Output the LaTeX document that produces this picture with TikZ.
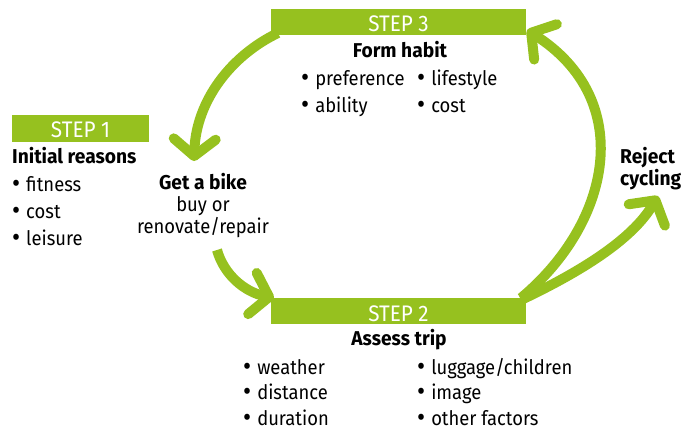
\documentclass[tikz,border=0pt]{standalone}
\usepackage{fontspec}
\setmainfont{Fira Sans}[FakeStretch=0.92,BoldFeatures={FakeStretch=0.96}]
\usetikzlibrary{arrows.meta}
\definecolor{stepgreen}{RGB}{150,193,31}
\newcommand\bul{\smash{\fontsize{27}{20}\selectfont\raisebox{-1.2pt}{•}}\hspace{6pt}}
\begin{document}
\begin{tikzpicture}[x=1pt,y=-1pt,
  stepbox/.style={inner sep=0pt,anchor=base,text=white,font=\fontsize{22.5}{22}\selectfont},
  txt/.style={inner sep=0pt,anchor=base west,font=\fontsize{20}{22}\selectfont},
  ttl/.style={inner sep=0pt,anchor=base,font=\fontsize{20}{22}\selectfont\bfseries},
  arr/.style={draw=stepgreen,line width=10pt,-{Straight Barb[length=17pt,width=42pt,round]}}]
\useasboundingbox (0,0) rectangle (683,432);
% arrow endpoints
\coordinate (a1s) at (278,33);
\coordinate (a1e) at (194,161);
\coordinate (a2s) at (217,250);
\coordinate (a2e) at (274,298);
\coordinate (a3s) at (521,298);
\coordinate (a3e) at (527,30);
\coordinate (a4s) at (521,300);
\coordinate (a4e) at (658,196);
% arrows
\draw[arr] (a1s) .. controls (232,55) and (196,100) .. (a1e);
\draw[arr] (a2s) .. controls (224,275) and (245,292) .. (a2e);
\draw[arr] (a3s) .. controls (612,222) and (636,100) .. (a3e);
\draw[arr] (a4s) .. controls (580,272) and (632,240) .. (a4e);
% step boxes
\fill[stepgreen] (12,115) rectangle (149,142);
\node[stepbox] (s1) at (80.5,137.5) {STEP 1};
\fill[stepgreen] (271,9) rectangle (526,35);
\node[stepbox] (s3) at (398.5,31.7) {STEP 3};
\fill[stepgreen] (271,298) rectangle (526,324);
\node[stepbox] (s2) at (398.5,321) {STEP 2};
% step 1 text
\node[txt,font=\fontsize{20}{22}\selectfont\bfseries] (t1) at (12,163.5) {Initial reasons};
\node[txt] (t1a) at (12,191) {\bul fitness};
\node[txt] (t1b) at (12,218) {\bul cost};
\node[txt] (t1c) at (12,245) {\bul leisure};
% get a bike
\node[ttl] (gb) at (203,189) {Get a bike};
\node[ttl,font=\fontsize{20}{22}\selectfont] (gb1) at (203,211) {buy or};
\node[ttl,font=\fontsize{20}{22}\selectfont] (gb2) at (203,233) {renovate/repair};
% step 3 text
\node[ttl] (t3) at (400,57) {Form habit};
\node[txt] (t3a) at (301,85) {\bul preference};
\node[txt] (t3b) at (417,85) {\bul lifestyle};
\node[txt] (t3c) at (301,112) {\bul ability};
\node[txt] (t3d) at (417,112) {\bul cost};
% reject
\node[txt,font=\fontsize{20}{22}\selectfont\bfseries] (rj1) at (620,163) {Reject};
\node[txt,font=\fontsize{20}{22}\selectfont\bfseries] (rj2) at (620,185) {cycling};
% step 2 text
\node[ttl] (t2) at (399,345) {Assess trip};
\node[txt] (t2a) at (243,374) {\bul weather};
\node[txt] (t2b) at (243,399.5) {\bul distance};
\node[txt] (t2c) at (243,425) {\bul duration};
\node[txt] (t2d) at (417,374) {\bul luggage/children};
\node[txt] (t2e) at (417,399.5) {\bul image};
\node[txt] (t2f) at (417,425) {\bul other factors};
\end{tikzpicture}
\end{document}
